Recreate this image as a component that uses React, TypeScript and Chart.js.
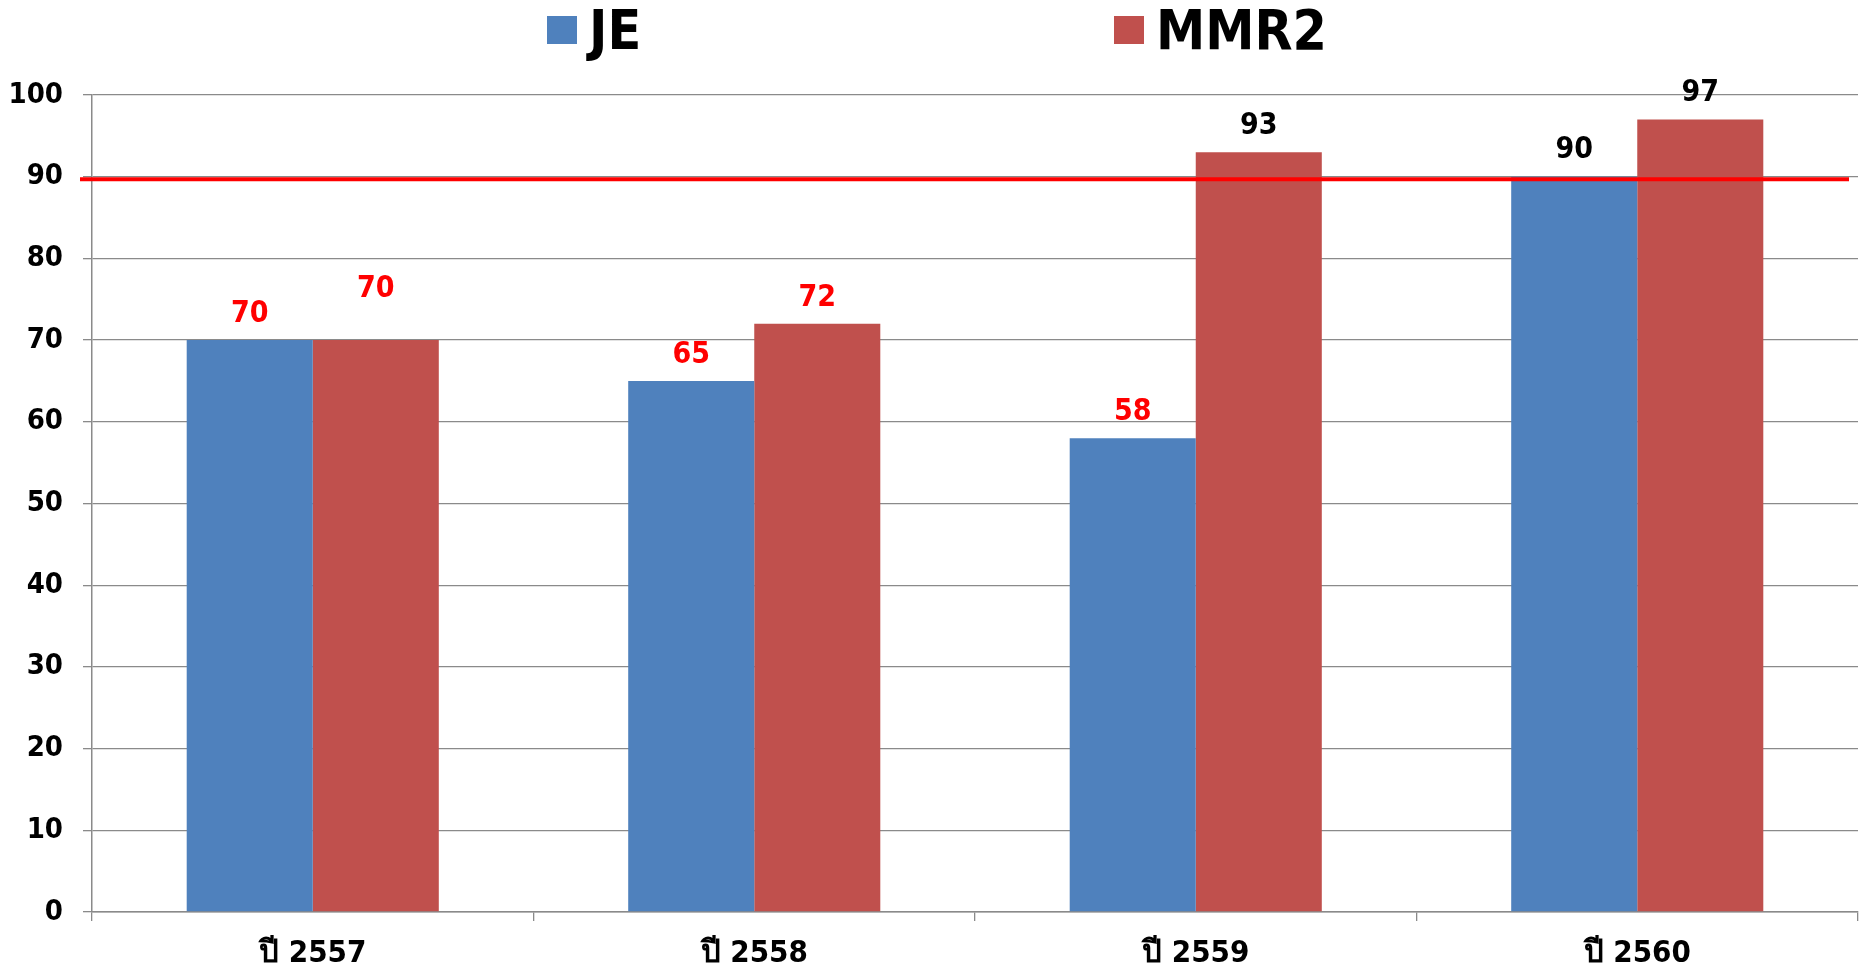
import React, { useEffect, useRef } from "react";
import { Chart, registerables } from "chart.js";

Chart.register(...registerables);

const categories = ["ปี 2557", "ปี 2558", "ปี 2559", "ปี 2560"];
const seriesNames = ["JE", "MMR2"];
const jeValues = [70, 65, 58, 90];
const mmr2Values = [70, 72, 93, 97];
const seriesColors = ["#4F81BD", "#C0504D"];
const yMin = 0;
const yMax = 100;
const yStep = 10;
const targetValue = 89.7;

const W = 1868;
const H = 967;
const FONT = "'DejaVu Sans Condensed', 'DejaVu Sans', Tahoma, sans-serif";

const legendPlugin = {
  id: "customLegend",
  afterDraw(chart: any) {
    const ctx = chart.ctx;
    const xs = [547, 1114];
    ctx.save();
    chart.data.datasets.forEach((ds: any, i: number) => {
      ctx.fillStyle = ds.backgroundColor;
      ctx.fillRect(xs[i], 16, 30, 28);
      ctx.fillStyle = "#000";
      ctx.font = `bold 55px ${FONT}`;
      ctx.textBaseline = "middle";
      ctx.textAlign = "left";
      ctx.fillText(ds.label, xs[i] + 42, 35);
    });
    ctx.restore();
  },
};

const targetPlugin = {
  id: "targetLine",
  afterDatasetsDraw(chart: any) {
    const { ctx, chartArea, scales } = chart;
    const y = scales.y.getPixelForValue(targetValue);
    ctx.save();
    ctx.strokeStyle = "#FF0000";
    ctx.lineWidth = 4;
    ctx.beginPath();
    ctx.moveTo(chartArea.left - 12, y);
    ctx.lineTo(chartArea.right - 9, y);
    ctx.stroke();
    ctx.restore();
  },
};

const valueLabelPlugin = {
  id: "valueLabels",
  afterDatasetsDraw(chart: any) {
    const ctx = chart.ctx;
    ctx.save();
    ctx.textAlign = "center";
    ctx.textBaseline = "middle";
    ctx.font = `bold 30px ${FONT}`;
    chart.data.datasets.forEach((ds: any, di: number) => {
      const meta = chart.getDatasetMeta(di);
      meta.data.forEach((bar: any, i: number) => {
        const v = ds.data[i];
        const lift = di === 1 && i === 0 ? 25 : 0;
        ctx.fillStyle = v >= 90 ? "#000" : "#FF0000";
        ctx.fillText(String(v), bar.x, bar.y - 26 - lift);
      });
    });
    ctx.restore();
  },
};

export default function App() {
  const ref = useRef<HTMLCanvasElement | null>(null);
  useEffect(() => {
    if (!ref.current) return;
    const chart = new Chart(ref.current, {
      type: "bar",
      data: {
        labels: categories,
        datasets: [
          { label: seriesNames[0], data: jeValues, backgroundColor: seriesColors[0] },
          { label: seriesNames[1], data: mmr2Values, backgroundColor: seriesColors[1] },
        ],
      },
      options: {
        animation: false,
        responsive: false,
        maintainAspectRatio: false,
        layout: { padding: { top: 95, right: 10, left: 0, bottom: 0 } },
        datasets: { bar: { categoryPercentage: 0.571, barPercentage: 1.0 } },
        plugins: {
          legend: { display: false },
          tooltip: { enabled: false },
          title: { display: false },
        },
        scales: {
          x: {
            afterFit: (s: any) => {
              s.height = 55;
            },
            grid: {
              offset: true,
              drawOnChartArea: false,
              drawTicks: true,
              tickLength: 9,
              color: "#8A8A8A",
              lineWidth: 1.3,
            },
            border: { color: "#8A8A8A", width: 1.5 },
            ticks: {
              color: "#000",
              padding: 14,
              font: { family: FONT, size: 31, weight: "bold" },
            },
          },
          y: {
            min: yMin,
            max: yMax,
            afterFit: (s: any) => {
              s.width = 92;
            },
            grid: {
              color: "#8A8A8A",
              lineWidth: 1.3,
              drawTicks: true,
              tickLength: 9,
            },
            border: { color: "#8A8A8A", width: 1.5 },
            ticks: {
              stepSize: yStep,
              color: "#000",
              padding: 20,
              font: { family: FONT, size: 29, weight: "bold" },
            },
          },
        },
      },
      plugins: [targetPlugin, valueLabelPlugin, legendPlugin],
    });
    return () => chart.destroy();
  }, []);
  return (
    <div style={{ position: "fixed", left: 0, top: 0, width: W, height: H, background: "#fff" }}>
      <canvas ref={ref} width={W} height={H} />
    </div>
  );
}
